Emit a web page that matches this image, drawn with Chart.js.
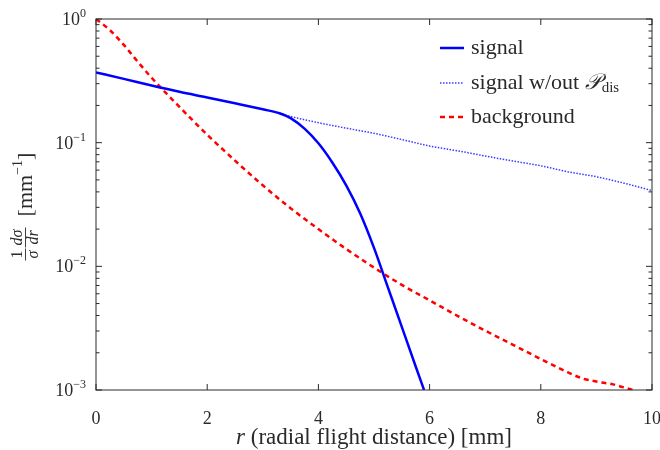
<!DOCTYPE html>
<html>
<head>
<meta charset="utf-8">
<script src="https://cdn.jsdelivr.net/npm/chart.js@4.4.1/dist/chart.umd.min.js"></script>
<style>
  html, body { margin: 0; padding: 0; background: #fff; }
  #wrap { width: 660px; height: 450px; }
</style>
</head>
<body>
<div id="wrap"><canvas id="myChart"></canvas></div>
<script>
// Values: r in mm, (1/sigma) dsigma/dr in mm^-1
const signalR = [0, 0.5, 1, 1.5, 2, 2.5, 3, 3.3, 3.5, 3.75, 4, 4.25, 4.5, 4.75, 5, 5.25, 5.5, 5.75, 5.9];
const signalVal = [0.37, 0.328, 0.29, 0.258, 0.232, 0.208, 0.186, 0.173, 0.158, 0.130, 0.0989, 0.0692, 0.0452, 0.0269, 0.0141, 0.00676, 0.00324, 0.00155, 0.001];

const noDisR = [3.3, 3.5, 4, 4.5, 5, 5.5, 6, 6.5, 7, 7.5, 8, 8.5, 9, 9.5, 10];
const noDisVal = [0.173, 0.163, 0.145, 0.131, 0.119, 0.106, 0.094, 0.086, 0.078, 0.071, 0.065, 0.058, 0.053, 0.047, 0.041];

const backgroundR = [0, 0.25, 0.5, 0.75, 1, 1.5, 2, 2.5, 3, 3.5, 4, 4.5, 5, 5.5, 6, 6.5, 7, 7.5, 8, 8.5, 8.75, 9, 9.3, 9.65];
const backgroundVal = [1.0, 0.813, 0.617, 0.452, 0.335, 0.195, 0.116, 0.0716, 0.0452, 0.0295, 0.020, 0.0138, 0.00977, 0.00708, 0.00531, 0.00398, 0.00302, 0.00232, 0.00178, 0.00138, 0.00124, 0.00117, 0.00111, 0.001];

const xTicks = [0, 2, 4, 6, 8, 10];
const yExponents = [0, -1, -2, -3];
const legendLabels = ['signal', 'signal w/out ', 'background'];

const SERIF = '"Liberation Serif", "DejaVu Serif", serif';
const INK = '#2a2a2a';

function toPoints(xs, ys) {
  return xs.map((x, i) => ({ x: x, y: ys[i] }));
}

function line(ctx, x1, y1, x2, y2) {
  ctx.beginPath();
  ctx.moveTo(x1, y1);
  ctx.lineTo(x2, y2);
  ctx.stroke();
}

// minus sign that looks like the TeX one
function expText(e) {
  return e < 0 ? '\u2212' + Math.abs(e) : String(e);
}

// Frame, inward ticks, y tick labels, axis titles and the legend
const decorations = {
  id: 'decorations',
  afterDraw(chart) {
    const { ctx, chartArea: a, scales: { x, y } } = chart;
    ctx.save();
    ctx.strokeStyle = INK;
    ctx.lineWidth = 1;
    ctx.strokeRect(a.left, a.top, a.right - a.left, a.bottom - a.top);

    // x major ticks, top and bottom
    xTicks.forEach(v => {
      const px = x.getPixelForValue(v);
      line(ctx, px, a.bottom, px, a.bottom - 6);
      line(ctx, px, a.top, px, a.top + 6);
    });

    // y decade and minor ticks, left and right
    yExponents.forEach(e => {
      const d = Math.pow(10, e);
      const py = y.getPixelForValue(d);
      line(ctx, a.left, py, a.left + 6, py);
      line(ctx, a.right, py, a.right - 6, py);
      if (e > -3) {
        for (let m = 2; m <= 9; m++) {
          const pm = y.getPixelForValue(d / 10 * m);
          line(ctx, a.left, pm, a.left + 3.5, pm);
          line(ctx, a.right, pm, a.right - 3.5, pm);
        }
      }
    });

    // y tick labels 10^e
    ctx.fillStyle = INK;
    ctx.textBaseline = 'alphabetic';
    ctx.textAlign = 'left';
    yExponents.forEach(e => {
      const py = y.getPixelForValue(Math.pow(10, e));
      ctx.font = '12px ' + SERIF;
      const sup = expText(e);
      const w2 = ctx.measureText(sup).width;
      ctx.font = '18px ' + SERIF;
      const w1 = ctx.measureText('10').width;
      const right = a.left - 10;
      ctx.fillText('10', right - w2 - w1, py + 6);
      ctx.font = '12px ' + SERIF;
      ctx.fillText(sup, right - w2, py - 2);
    });

    // x title: r (radial flight distance) [mm]
    const cx = (a.left + a.right) / 2;
    ctx.font = 'italic 23px ' + SERIF;
    const rW = ctx.measureText('r').width;
    ctx.font = '23px ' + SERIF;
    const rest = ' (radial flight distance) [mm]';
    const restW = ctx.measureText(rest).width;
    const x0 = cx - (rW + restW) / 2;
    ctx.font = 'italic 23px ' + SERIF;
    ctx.fillText('r', x0, 444);
    ctx.font = '23px ' + SERIF;
    ctx.fillText(rest, x0 + rW, 444);

    // y title: (1/sigma)(dsigma/dr) [mm^-1], rotated
    ctx.save();
    ctx.translate(25, (a.top + a.bottom) / 2);
    ctx.rotate(-Math.PI / 2);
    ctx.textAlign = 'center';
    ctx.font = '16px ' + SERIF;
    ctx.fillText('1', -50, -3);
    ctx.font = 'italic 16px ' + SERIF;
    ctx.fillText('\u03c3', -50, 13);
    ctx.fillText('d\u03c3', -33, -3);
    ctx.fillText('dr', -33, 13);
    ctx.lineWidth = 0.9;
    line(ctx, -56, 0.5, -44, 0.5);
    line(ctx, -43, 0.5, -23, 0.5);
    ctx.textAlign = 'left';
    ctx.font = '22px ' + SERIF;
    const bw = ctx.measureText('[mm').width;
    ctx.font = '14px ' + SERIF;
    const sw = ctx.measureText('\u22121').width;
    ctx.font = '22px ' + SERIF;
    const cw = ctx.measureText(']').width;
    const sx = -14 + (68 - (bw + sw + cw)) / 2;
    ctx.fillText('[mm', sx, 7);
    ctx.font = '14px ' + SERIF;
    ctx.fillText('\u22121', sx + bw, -3);
    ctx.font = '22px ' + SERIF;
    ctx.fillText(']', sx + bw + sw, 7);
    ctx.restore();

    // legend, top right inside the plot
    const rows = chart.data.datasets;
    const rowY = [48, 83, 117];
    rows.forEach((ds, i) => {
      const yy = rowY[i];
      ctx.strokeStyle = ds.borderColor;
      ctx.lineWidth = ds.borderWidth;
      ctx.setLineDash(ds.borderDash || []);
      line(ctx, 440, yy, 464, yy);
      ctx.setLineDash([]);
      ctx.fillStyle = INK;
      ctx.textBaseline = 'middle';
      ctx.font = '22px ' + SERIF;
      ctx.fillText(legendLabels[i], 471, yy);
      if (i === 1) {
        const lw = ctx.measureText(legendLabels[i]).width;
        ctx.font = 'italic 22px ' + SERIF;
        ctx.fillText('\ud835\udcab', 471 + lw, yy);
        const pw = ctx.measureText('\ud835\udcab').width;
        ctx.font = '15px ' + SERIF;
        ctx.fillText('dis', 471 + lw + pw + 1, yy + 5);
      }
    });
    ctx.restore();
  }
};

const ctx = document.getElementById('myChart');

new Chart(ctx, {
  type: 'scatter',
  data: {
    datasets: [
      {
        label: 'signal',
        data: toPoints(signalR, signalVal),
        borderColor: '#0000ff',
        borderWidth: 2.5,
        borderDash: []
      },
      {
        label: 'signal w/out P_dis',
        data: toPoints(noDisR, noDisVal),
        borderColor: '#3b3bff',
        borderWidth: 1.5,
        borderDash: [1.5, 1.5]
      },
      {
        label: 'background',
        data: toPoints(backgroundR, backgroundVal),
        borderColor: '#ff0000',
        borderWidth: 2.5,
        borderDash: [5, 4]
      }
    ].map(ds => Object.assign(ds, {
      showLine: true,
      pointRadius: 0,
      cubicInterpolationMode: 'monotone',
      fill: false
    }))
  },
  options: {
    responsive: true,
    maintainAspectRatio: false,
    animation: false,
    layout: { padding: { top: 19, right: 8, left: 0, bottom: 0 } },
    plugins: {
      legend: { display: false },
      tooltip: { enabled: false }
    },
    scales: {
      x: {
        type: 'linear',
        min: 0,
        max: 10,
        grid: { display: false },
        border: { display: false },
        ticks: {
          stepSize: 2,
          color: INK,
          padding: 10,
          maxRotation: 0,
          font: { family: SERIF, size: 18 }
        },
        afterFit(scale) {
          scale.height = 60;
          scale.paddingLeft = 0;
          scale.paddingRight = 0;
        }
      },
      y: {
        type: 'logarithmic',
        min: 0.001,
        max: 1,
        grid: { display: false },
        border: { display: false },
        ticks: { display: false },
        afterFit(scale) {
          scale.width = 96;
          scale.paddingTop = 0;
          scale.paddingBottom = 0;
        }
      }
    }
  },
  plugins: [decorations]
});
</script>
</body>
</html>
